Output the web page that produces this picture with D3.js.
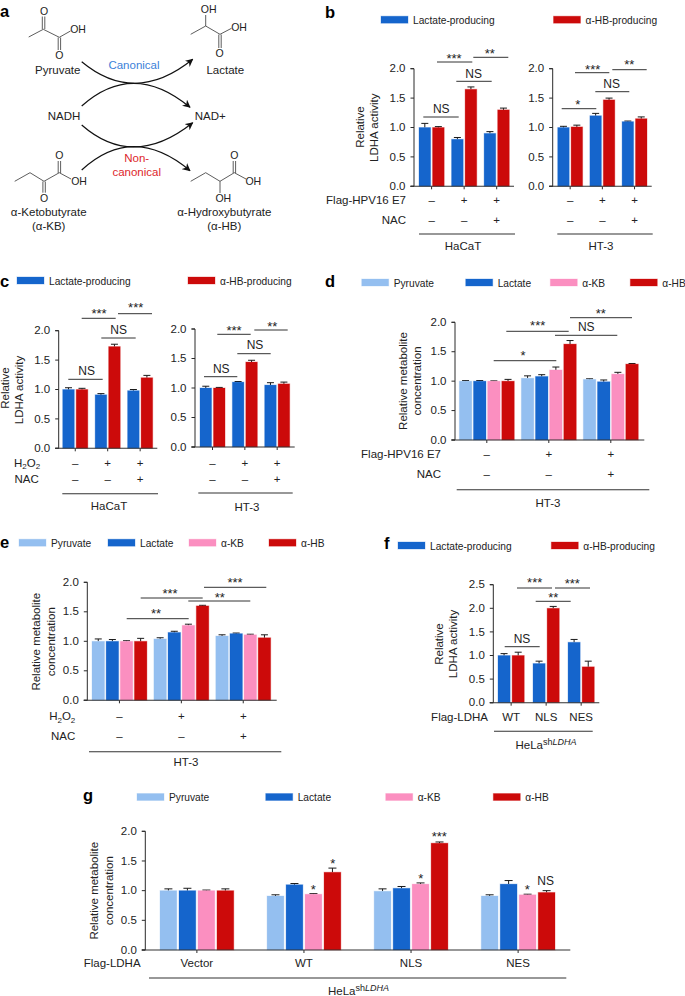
<!DOCTYPE html>
<html>
<head>
<meta charset="utf-8">
<script src="https://cdn.jsdelivr.net/npm/d3@7"></script>
<style>
  html, body { margin: 0; padding: 0; background: #fff; }
  svg { display: block; }
  text { font-family: "Liberation Sans", Arial, sans-serif; fill: #222; }
</style>
</head>
<body>
<svg id="figure" width="685" height="996"></svg>
<script>
// series names
const ldhaSeries = ['Lactate-producing', 'α-HB-producing']
const metaboliteSeries = ['Pyruvate', 'Lactate', 'α-KB', 'α-HB']

// x rows below the axes
const e7Row = ['–', '+', '+']
const nacRow = ['–', '–', '+']
const ldhaGroups = ['WT', 'NLS', 'NES']
const vectorGroups = ['Vector', 'WT', 'NLS', 'NES']

const ticksTo2 = [0, 0.5, 1, 1.5, 2]
const ticksTo25 = [0, 0.5, 1, 1.5, 2, 2.5]

// values are series -> groups
const bHacatValues = [[1.0, 0.8, 0.9], [1.0, 1.65, 1.3]]
const bHacatErrors = [[0.07, 0.03, 0.03], [0.015, 0.04, 0.03]]
const bHt3Values = [[1.0, 1.2, 1.1], [1.01, 1.47, 1.15]]
const bHt3Errors = [[0.02, 0.04, 0.01], [0.03, 0.03, 0.03]]

const cHacatValues = [[1.0, 0.91, 0.98], [1.0, 1.73, 1.2]]
const cHacatErrors = [[0.03, 0.02, 0.02], [0.02, 0.04, 0.04]]
const cHt3Values = [[1.0, 1.1, 1.05], [1.0, 1.44, 1.07]]
const cHt3Errors = [[0.03, 0.01, 0.04], [0.01, 0.03, 0.03]]

const dValues = [[1.0, 1.05, 1.03], [1.0, 1.08, 0.99], [1.0, 1.19, 1.12], [1.0, 1.63, 1.29]]
const dErrors = [[0.01, 0.04, 0.01], [0.01, 0.03, 0.03], [0.005, 0.05, 0.03], [0.03, 0.06, 0.01]]

const eValues = [[1.0, 1.04, 1.09], [1.0, 1.15, 1.13], [1.0, 1.27, 1.11], [1.0, 1.6, 1.06]]
const eErrors = [[0.04, 0.02, 0.02], [0.03, 0.02, 0.01], [0.01, 0.02, 0.01], [0.05, 0.01, 0.05]]

const fValues = [[1.0, 0.83, 1.28], [1.0, 2.0, 0.76]]
const fErrors = [[0.04, 0.05, 0.06], [0.07, 0.04, 0.12]]

const gValues = [[1.0, 0.91, 0.99, 0.91], [1.0, 1.1, 1.04, 1.11], [1.0, 0.94, 1.11, 0.93], [1.0, 1.31, 1.8, 0.97]]
const gErrors = [[0.03, 0.02, 0.04, 0.02], [0.04, 0.02, 0.03, 0.06], [0.01, 0.01, 0.02, 0.01], [0.03, 0.07, 0.02, 0.03]]

const BLUE = '#1565cc'
const RED = '#cc0a0a'
const LIGHT_BLUE = '#94bff0'
const PINK = '#fb8fc0'
const INK = '#2a2a2a'
const ldhaColors = [BLUE, RED]
const metaboliteColors = [LIGHT_BLUE, BLUE, PINK, RED]

const svg = d3.select('#figure')

function label (parent, x, y, str, opts = {}) {
  return parent.append('text')
    .attr('x', x)
    .attr('y', y)
    .attr('dy', opts.dy || '0.36em')
    .attr('text-anchor', opts.anchor || 'middle')
    .attr('font-size', opts.size || 11.5)
    .style('fill', opts.fill || null)
    .style('font-weight', opts.weight || null)
    .text(str)
}

function panelLetter (str, x, y) {
  label(svg, x, y, str, { anchor: 'start', size: 16.5, weight: 'bold', dy: 0 }).style('fill', '#000')
}

function rule (parent, x1, x2, y, width = 1) {
  parent.append('line')
    .attr('x1', x1).attr('x2', x2)
    .attr('y1', y).attr('y2', y)
    .attr('stroke', '#333')
    .attr('stroke-width', width)
}

function legend (items, colors, y, swatchH = 7) {
  items.forEach((item, i) => {
    svg.append('rect')
      .attr('x', item.x)
      .attr('y', y - swatchH / 2)
      .attr('width', 27)
      .attr('height', swatchH)
      .attr('fill', colors[i])
      .attr('stroke', colors[i])
      .attr('stroke-opacity', 0.3)
    label(svg, item.x + 32, y + 0.5, item.text, { anchor: 'start', size: 10.2 })
  })
}

// H2O2 needs subscripts
function h2o2 (parent, x, y, anchor) {
  const t = label(parent, x, y, '', { anchor })
  t.append('tspan').text('H')
  t.append('tspan').attr('font-size', 8).attr('dy', 2.5).text('2')
  t.append('tspan').attr('dy', -2.5).text('O')
  t.append('tspan').attr('font-size', 8).attr('dy', 2.5).text('2')
}

// HeLa shLDHA has a superscript in italic
function helaLabel (x, y) {
  const t = label(svg, x, y, '', {})
  t.append('tspan').text('HeLa')
  t.append('tspan').attr('font-size', 9).attr('dy', -4).text('sh')
  t.append('tspan').attr('font-size', 9).style('font-style', 'italic').text('LDHA')
}

function barChart (c) {
  const g = svg.append('g')
  const n = c.values[0].length

  const x = d3.scaleBand()
    .domain(d3.range(n))
    .range([c.barStart, c.barEnd])
    .paddingInner(c.groupPad)
  const xInner = d3.scaleBand()
    .domain(d3.range(c.values.length))
    .range([0, x.bandwidth()])
    .paddingInner(c.barPad)
  const y = d3.scaleLinear()
    .domain([0, d3.max(c.ticks)])
    .range([c.y0, c.yTop])

  c.values.forEach((series, s) => {
    series.forEach((v, i) => {
      const bx = x(i) + xInner(s)
      const cx = bx + xInner.bandwidth() / 2
      const top = y(v + c.errors[s][i])
      g.append('path')
        .attr('d', `M${cx},${y(v)}V${top}M${cx - c.cap / 2},${top}H${cx + c.cap / 2}`)
        .attr('fill', 'none')
        .attr('stroke', '#1a1a1a')
        .attr('stroke-width', 1)
      g.append('rect')
        .attr('x', bx)
        .attr('y', y(v))
        .attr('width', xInner.bandwidth())
        .attr('height', c.y0 - y(v))
        .attr('fill', c.colors[s])
        .attr('stroke', c.colors[s])
        .attr('stroke-opacity', 0.3)
    })
  })

  // y axis
  const yAxis = d3.axisLeft(y)
    .tickValues(c.ticks)
    .tickFormat(d3.format('.1f'))
    .tickSize(3.5)
    .tickPadding(5)
    .offset(0)
  const yG = g.append('g')
    .attr('transform', `translate(${c.axisX},0)`)
    .call(yAxis)
  yG.selectAll('.tick line, .domain').attr('stroke', INK).attr('stroke-width', 1)
  yG.selectAll('text').attr('font-size', 11.5).attr('font-family', null)

  // x axis, the line runs past the ticks on both ends
  const xAxis = d3.axisBottom(x)
    .tickFormat('')
    .tickSize(3)
    .tickSizeOuter(0)
    .offset(0)
  const xG = g.append('g')
    .attr('transform', `translate(0,${c.y0})`)
    .call(xAxis)
  xG.select('.domain').remove()
  xG.selectAll('.tick line').attr('stroke', INK).attr('stroke-width', 1)
  rule(g, c.axisX - 3.5, c.xEnd, c.y0, 1.1)

  // rows under the axis
  ;(c.rows || []).forEach(row => {
    row.values.forEach((str, i) => {
      label(g, x(i) + x.bandwidth() / 2, row.y, str, { size: row.size || 11.5 })
    })
    if (row.name === 'H2O2') {
      h2o2(g, row.nameX, row.y, row.anchor || 'end')
    } else if (row.name) {
      label(g, row.nameX, row.y, row.name, { anchor: row.anchor || 'end' })
    }
  })

  // y title
  c.title.forEach(t => {
    label(g, 0, 0, t.text).attr('transform', `translate(${t.x},${t.y}) rotate(-90)`)
  })

  // group rule and name
  if (c.under) {
    rule(g, c.under.x1, c.under.x2, c.under.y, 1.1)
    if (c.under.text) label(g, c.under.textX, c.under.textY, c.under.text)
  }

  // significance bars: x1, x2, y, text, text x, text y
  ;(c.sig || []).forEach(([x1, x2, yy, str, tx, ty]) => {
    rule(g, x1, x2, yy, 1)
    sigText(g, str, tx, ty)
  })
  ;(c.marks || []).forEach(([str, tx, ty]) => sigText(g, str, tx, ty))
}

function sigText (g, str, tx, ty) {
  if (str === 'NS') {
    label(g, tx, ty, str, { size: 12 })
  } else {
    label(g, tx, ty, str, { size: 13, dy: '0.58em' })
  }
}

// panel a -----------------------------------------------------------------
const a = svg.append('g')
svg.append('defs').append('marker')
  .attr('id', 'head')
  .attr('viewBox', '0 0 10 10')
  .attr('refX', 9)
  .attr('refY', 5)
  .attr('markerWidth', 8)
  .attr('markerHeight', 8)
  .attr('markerUnits', 'userSpaceOnUse')
  .attr('orient', 'auto')
  .append('path')
  .attr('d', 'M0,0L10,5L0,10L3,5Z')
  .attr('fill', '#111')

const arrows = [
  'M81.7,61.7Q135,106 192.7,59.3',
  'M81.7,106Q133,60 190,107.3',
  'M81.7,125Q133,170 192.7,122.7',
  'M81.7,170Q133,123 190,170.7'
]
arrows.forEach(d => {
  a.append('path')
    .attr('d', d)
    .attr('fill', 'none')
    .attr('stroke', '#111')
    .attr('stroke-width', 1.2)
    .attr('marker-end', 'url(#head)')
})

const bonds = [
  // pyruvate
  'M28.7,37L43.3,29.3L59.3,37.3L70.5,31',
  'M42.3,29V16.5M44.8,29V16.5',
  'M58.2,37.5V50M60.6,37.5V50',
  // lactate
  'M190.7,34.3L205.7,26L220,34.3L231.5,28.3',
  'M205.7,26V15',
  'M218.8,34.5V48M221.2,34.5V48',
  // ketobutyrate
  'M14.7,181.3L30,172.7L44,181.3L59.3,172.7L71,179',
  'M58.2,173V161M60.6,173V161',
  'M42.9,181.5V192.7M45.3,181.5V192.7',
  // hydroxybutyrate
  'M190.7,181.3L205.7,172.7L220,181.3L234.3,172.7L246,179',
  'M233.2,173V161M235.6,173V161',
  'M220,181.3V193'
]
bonds.forEach(d => {
  a.append('path')
    .attr('d', d)
    .attr('fill', 'none')
    .attr('stroke', '#333')
    .attr('stroke-width', 0.8)
})

const atoms = [
  ['O', 44, 11.7], ['OH', 78, 29], ['O', 59.3, 55.7],
  ['OH', 208.7, 9.3], ['OH', 239, 27.3], ['O', 219.7, 53.3],
  ['O', 59.3, 155], ['OH', 79, 181], ['O', 44, 198.7],
  ['O', 234.3, 155], ['OH', 253.3, 181], ['OH', 223.3, 198.7]
]
atoms.forEach(([s, x, y]) => label(a, x, y, s, { size: 10.5 }))

const names = [
  ['Pyruvate', 57.7, 70], ['Lactate', 225.3, 70],
  ['NADH', 64, 115.7], ['NAD+', 210.3, 115.7],
  ['α-Ketobutyrate', 48.7, 212], ['(α-KB)', 48.7, 226],
  ['α-Hydroxybutyrate', 224.3, 212], ['(α-HB)', 224.3, 226]
]
names.forEach(([s, x, y]) => label(a, x, y, s, { size: 11.5 }))

label(a, 134, 65, 'Canonical', { size: 11.5, fill: '#3b7fd9' })
label(a, 136.7, 158.3, 'Non-', { size: 11.5, fill: '#dd1f2b' })
label(a, 136.7, 172, 'canonical', { size: 11.5, fill: '#dd1f2b' })

panelLetter('a', 0, 11)
panelLetter('b', 325, 12)
panelLetter('c', 0, 281)
panelLetter('d', 325, 281)
panelLetter('e', 0, 542)
panelLetter('f', 384, 543)
panelLetter('g', 83, 795)

// panel b -----------------------------------------------------------------
legend([{ x: 381, text: ldhaSeries[0] }, { x: 553.5, text: ldhaSeries[1] }], ldhaColors, 19.7)

const twoBarLayout = { groupPad: 0.226, barPad: 0.14, cap: 7, colors: ldhaColors, ticks: ticksTo2 }

barChart({
  ...twoBarLayout,
  values: bHacatValues,
  errors: bHacatErrors,
  axisX: 414, xEnd: 514, y0: 186.3, yTop: 68.7, barStart: 419, barEnd: 509.3,
  rows: [
    { y: 200, values: e7Row, name: 'Flag-HPV16 E7', nameX: 406 },
    { y: 220.3, values: nacRow, name: 'NAC', nameX: 406 }
  ],
  title: [{ text: 'Relative', x: 360, y: 127 }, { text: 'LDHA activity', x: 374.3, y: 127.7 }],
  under: { x1: 419, x2: 515, y: 234, text: 'HaCaT', textX: 463, textY: 246 },
  sig: [
    [437, 472.3, 62, '***', 454, 55],
    [473.3, 508.3, 57.3, '**', 489.7, 50],
    [456.3, 491.7, 81.3, 'NS', 473.7, 73.3],
    [423.3, 458.7, 117, 'NS', 441.3, 109]
  ]
})

barChart({
  ...twoBarLayout,
  values: bHt3Values,
  errors: bHt3Errors,
  axisX: 552.7, xEnd: 651.7, y0: 186.3, yTop: 68.7, barStart: 557.7, barEnd: 647,
  rows: [
    { y: 200, values: e7Row },
    { y: 220.3, values: nacRow }
  ],
  title: [],
  under: { x1: 557.3, x2: 652.7, y: 234, text: 'HT-3', textX: 601, textY: 246 },
  sig: [
    [575, 609.3, 72.7, '***', 592.7, 66.7],
    [612.3, 646.7, 69.7, '**', 629.3, 61.3],
    [595.3, 629.3, 91.7, 'NS', 611.7, 83.3],
    [561.7, 596.3, 108.7, '*', 577.7, 101]
  ]
})

// panel c -----------------------------------------------------------------
legend([{ x: 17, text: ldhaSeries[0] }, { x: 188, text: ldhaSeries[1] }], ldhaColors, 280.5)

barChart({
  ...twoBarLayout,
  values: cHacatValues,
  errors: cHacatErrors,
  axisX: 58.7, xEnd: 157.3, y0: 448.3, yTop: 330.7, barStart: 62.7, barEnd: 152.7,
  rows: [
    { y: 462.7, values: e7Row, name: 'H2O2', nameX: 14, anchor: 'start' },
    { y: 479.3, values: nacRow, name: 'NAC', nameX: 14.5, anchor: 'start' }
  ],
  title: [{ text: 'Relative', x: 5, y: 388 }, { text: 'LDHA activity', x: 19.3, y: 390 }],
  under: { x1: 62.3, x2: 158, y: 493.7, text: 'HaCaT', textX: 109, textY: 505.7 },
  sig: [
    [81.7, 115.7, 318.3, '***', 99, 310],
    [118, 152, 313.7, '***', 135.7, 304.7],
    [101.3, 135.7, 338, 'NS', 118.7, 329.3],
    [68.3, 102.7, 379.3, 'NS', 86.7, 370.7]
  ]
})

barChart({
  ...twoBarLayout,
  values: cHt3Values,
  errors: cHt3Errors,
  axisX: 195, xEnd: 294.7, y0: 447, yTop: 329, barStart: 200, barEnd: 289.7,
  rows: [
    { y: 462.7, values: e7Row },
    { y: 479.3, values: nacRow }
  ],
  title: [],
  under: { x1: 198.3, x2: 292.7, y: 493, text: 'HT-3', textX: 247, textY: 506.7 },
  sig: [
    [217.3, 250.7, 334.3, '***', 234, 327.3],
    [254.3, 287.7, 330, '**', 272.3, 323.3],
    [237.3, 270.7, 353.7, 'NS', 255, 345],
    [204, 237.3, 376.7, 'NS', 221.3, 368.7]
  ]
})

// panel d -----------------------------------------------------------------
const fourBarLayout = { groupPad: 0.113, barPad: 0.115, cap: 7, colors: metaboliteColors, ticks: ticksTo2 }

legend([
  { x: 361.7, text: metaboliteSeries[0] },
  { x: 465.7, text: metaboliteSeries[1] },
  { x: 550.3, text: metaboliteSeries[2] },
  { x: 630.3, text: metaboliteSeries[3] }
], metaboliteColors, 282.5)

barChart({
  ...fourBarLayout,
  values: dValues,
  errors: dErrors,
  axisX: 455, xEnd: 644.3, y0: 440, yTop: 322.3, barStart: 459.3, barEnd: 638.3,
  rows: [
    { y: 454.3, values: e7Row, name: 'Flag-HPV16 E7', nameX: 441 },
    { y: 474.3, values: nacRow, name: 'NAC', nameX: 441 }
  ],
  title: [{ text: 'Relative metabolite', x: 403.3, y: 381 }, { text: 'concentration', x: 417.3, y: 381 }],
  under: { x1: 456.7, x2: 649.3, y: 489.7, text: 'HT-3', textX: 548, textY: 503 },
  sig: [
    [570, 632, 317.7, '**', 600.7, 310],
    [506.3, 568.7, 331.3, '***', 537.7, 322.7],
    [555, 617.3, 335.3, 'NS', 586.3, 327],
    [493.7, 556.3, 360.7, '*', 523, 352.7]
  ]
})

// panel e -----------------------------------------------------------------
legend([
  { x: 19, text: metaboliteSeries[0] },
  { x: 108, text: metaboliteSeries[1] },
  { x: 189, text: metaboliteSeries[2] },
  { x: 269, text: metaboliteSeries[3] }
], metaboliteColors, 542.7)

barChart({
  ...fourBarLayout,
  values: eValues,
  errors: eErrors,
  axisX: 87.3, xEnd: 276.7, y0: 700.3, yTop: 582.3, barStart: 92, barEnd: 270.7,
  rows: [
    { y: 716.3, values: e7Row, name: 'H2O2', nameX: 75.3 },
    { y: 736, values: nacRow, name: 'NAC', nameX: 75.3 }
  ],
  title: [{ text: 'Relative metabolite', x: 36, y: 641.7 }, { text: 'concentration', x: 50.7, y: 641.7 }],
  under: { x1: 89, x2: 281.3, y: 751.7, text: 'HT-3', textX: 186, textY: 762.3 },
  sig: [
    [204, 266.3, 587.3, '***', 235, 579.3],
    [140.7, 202.7, 598, '***', 170, 590],
    [188.3, 250.3, 601, '**', 219.7, 594],
    [126.7, 188.7, 618.7, '**', 156, 610.7]
  ]
})

// panel f -----------------------------------------------------------------
legend([{ x: 398, text: ldhaSeries[0] }, { x: 551.3, text: ldhaSeries[1] }], ldhaColors, 545.5)

barChart({
  ...twoBarLayout,
  groupPad: 0.25,
  ticks: ticksTo25,
  values: fValues,
  errors: fErrors,
  axisX: 493.3, xEnd: 599.3, y0: 702.7, yTop: 584.7, barStart: 498, barEnd: 594.3,
  rows: [
    { y: 717, values: ldhaGroups, name: 'Flag-LDHA', nameX: 488, size: 11.5 }
  ],
  title: [{ text: 'Relative', x: 439, y: 644 }, { text: 'LDHA activity', x: 453.3, y: 644 }],
  under: { x1: 494, x2: 592.7, y: 731.3 },
  sig: [
    [517, 552, 588, '***', 534.7, 579.3],
    [555, 590, 588, '***', 572.3, 580.3],
    [535.7, 570.7, 601.3, '**', 553.3, 594],
    [504.7, 539.7, 646.7, 'NS', 522, 638.3]
  ]
})
helaLabel(546, 745)

// panel g -----------------------------------------------------------------
legend([
  { x: 137, text: metaboliteSeries[0] },
  { x: 265.7, text: metaboliteSeries[1] },
  { x: 385.7, text: metaboliteSeries[2] },
  { x: 493.3, text: metaboliteSeries[3] }
], metaboliteColors, 797)

barChart({
  ...fourBarLayout,
  cap: 8,
  groupPad: 0.311,
  values: gValues,
  errors: gErrors,
  axisX: 145.3, xEnd: 570.3, y0: 950, yTop: 831.3, barStart: 160, barEnd: 555,
  rows: [
    { y: 963.3, values: vectorGroups, name: 'Flag-LDHA', nameX: 83.7, anchor: 'start' }
  ],
  title: [{ text: 'Relative metabolite', x: 94, y: 890.7 }, { text: 'concentration', x: 109, y: 890.7 }],
  under: { x1: 149, x2: 566.3, y: 978 },
  marks: [
    ['*', 313.3, 886],
    ['*', 332.7, 860.3],
    ['*', 420.7, 875.7],
    ['***', 439.3, 833.3],
    ['*', 527.3, 886],
    ['NS', 545.7, 880.7]
  ]
})
helaLabel(358.5, 991)
</script>
</body>
</html>
